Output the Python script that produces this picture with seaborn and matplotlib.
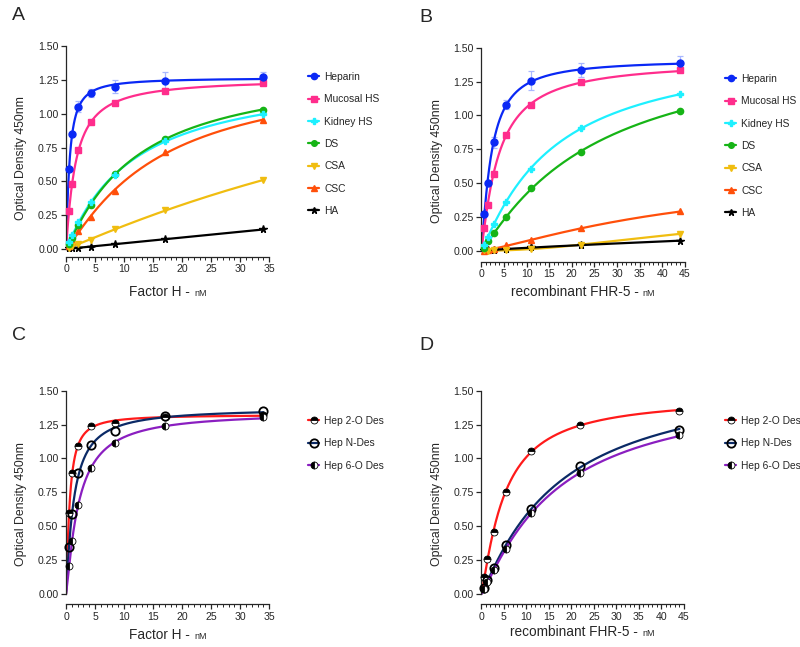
"""Binding curves of Factor H / FHR-5 to glycosaminoglycans (4 panels)."""
import numpy as np
import pandas as pd
import matplotlib
matplotlib.use("Agg")
import matplotlib.pyplot as plt
from matplotlib.lines import Line2D
from matplotlib.ticker import MultipleLocator
from matplotlib.offsetbox import TextArea, HPacker, AnchoredOffsetbox
import seaborn as sns

# concentrations (nM)
fh_conc = [0.53, 1.06, 2.125, 4.25, 8.5, 17, 34]
fhr5_conc = [0.69, 1.375, 2.75, 5.5, 11, 22, 44]

# panel A - Factor H
a_heparin = [0.59, 0.85, 1.05, 1.155, 1.20, 1.245, 1.268]
a_mucosal = [0.28, 0.48, 0.73, 0.94, 1.08, 1.165, 1.225]
a_kidney = [0.05, 0.10, 0.20, 0.345, 0.545, 0.80, 0.995]
a_ds = [0.04, 0.085, 0.18, 0.325, 0.555, 0.815, 1.03]
a_csa = [0.01, 0.02, 0.04, 0.07, 0.145, 0.285, 0.51]
a_csc = [0.02, 0.06, 0.13, 0.235, 0.43, 0.715, 0.955]
a_ha = [0.005, 0.005, 0.01, 0.018, 0.035, 0.072, 0.145]
a_heparin_err = [0, 0, 0.04, 0.03, 0.05, 0.06, 0.04]

# panel B - recombinant FHR-5
b_heparin = [0.27, 0.50, 0.80, 1.08, 1.255, 1.335, 1.385]
b_mucosal = [0.17, 0.335, 0.57, 0.855, 1.075, 1.245, 1.335]
b_kidney = [0.04, 0.10, 0.195, 0.36, 0.605, 0.91, 1.155]
b_ds = [0.02, 0.07, 0.13, 0.25, 0.46, 0.73, 1.035]
b_csa = [0.005, 0.0, 0.005, 0.005, 0.01, 0.045, 0.125]
b_csc = [0.0, 0.005, 0.01, 0.04, 0.08, 0.165, 0.29]
b_ha = [0.005, 0.005, 0.008, 0.012, 0.025, 0.04, 0.075]
b_heparin_err = [0, 0, 0.04, 0.03, 0.07, 0.05, 0.05]

# panel C - Factor H, desulfated heparins
c_2o = [0.60, 0.895, 1.09, 1.24, 1.265, 1.305, 1.32]
c_n = [0.35, 0.59, 0.89, 1.10, 1.20, 1.31, 1.35]
c_6o = [0.21, 0.39, 0.655, 0.93, 1.115, 1.24, 1.305]

# panel D - FHR-5, desulfated heparins
d_2o = [0.128, 0.256, 0.457, 0.755, 1.057, 1.25, 1.352]
d_n = [0.047, 0.10, 0.19, 0.36, 0.625, 0.944, 1.212]
d_6o = [0.04, 0.09, 0.175, 0.33, 0.595, 0.89, 1.17]

gag_names = ["Heparin", "Mucosal HS", "Kidney HS", "DS", "CSA", "CSC", "HA"]
gag_colors = ["#0a28f5", "#ff2d8c", "#1ef0ff", "#16b416", "#f0bd10", "#ff4f0a", "#000000"]
gag_markers = ["o", "s", "P", "o", "v", "^", "*"]
gag_sizes = [5, 5, 5, 4.5, 5, 5, 5.5]

des_names = ["Hep 2-O Des", "Hep N-Des", "Hep 6-O Des"]
des_colors = ["#ff1a1a", "#0b2a66", "#8a1ec0"]


def hill_fit(x, y):
    """Least-squares fit of y = Bmax*x^h/(K^h+x^h) by grid search."""
    x = np.asarray(x, float)
    y = np.asarray(y, float)
    ks = np.logspace(-1.5, 4, 300)[:, None, None]
    hs = np.linspace(0.6, 2.5, 39)[None, :, None]
    f = x ** hs / (ks ** hs + x ** hs)
    b = (f * y).sum(-1) / (f * f).sum(-1)
    sse = ((b[..., None] * f - y) ** 2).sum(-1)
    i, j = np.unravel_index(np.argmin(sse), sse.shape)
    k, h, bm = ks[i, 0, 0], hs[0, j, 0], b[i, j]
    return lambda t: bm * t ** h / (k ** h + t ** h)


def fit_frame(conc, series, names):
    rows = []
    xs = np.linspace(0, max(conc), 400)
    for name, ys in zip(names, series):
        fn = hill_fit(conc, ys)
        rows.append(pd.DataFrame({"x": xs, "y": fn(xs), "series": name}))
    return pd.concat(rows, ignore_index=True)


def style_axes(ax, xmax, ybottom):
    ax.set_xlim(0, xmax)
    ax.set_ylim(ybottom, 1.5)
    ax.spines["left"].set_bounds(0, 1.5)
    ax.spines["top"].set_visible(False)
    ax.spines["right"].set_visible(False)
    ax.set_yticks([0, 0.25, 0.5, 0.75, 1.0, 1.25, 1.5])
    ax.set_yticklabels([f"{v:.2f}" for v in ax.get_yticks()])
    ax.xaxis.set_major_locator(MultipleLocator(5))
    ax.xaxis.set_minor_locator(MultipleLocator(1))
    ax.tick_params(which="major", direction="out", length=3.5, width=0.9, labelsize=7.6, pad=2)
    ax.tick_params(which="minor", direction="out", length=2, width=0.7)
    for s in ("left", "bottom"):
        ax.spines[s].set_linewidth(0.9)
    ax.set_xlabel("")
    ax.set_ylabel("Optical Density 450nm", fontsize=8.8)
    ax.yaxis.set_label_coords(-0.19, 0.47)


def x_label(ax, main, y):
    t1 = TextArea(main, textprops=dict(fontsize=9.8))
    t2 = TextArea("nM", textprops=dict(fontsize=6.5))
    box = HPacker(children=[t1, t2], align="baseline", pad=0, sep=3)
    anc = AnchoredOffsetbox(loc="center", child=box, pad=0, borderpad=0, frameon=False,
                            bbox_to_anchor=(0.5, y), bbox_transform=ax.transAxes)
    ax.add_artist(anc)


def add_legend(ax, handles, names, px, py):
    ax.legend(handles, names, loc="upper left", bbox_to_anchor=(px / 800, 1 - py / 647),
              bbox_transform=fig.transFigure, frameon=False, fontsize=7.4, handlelength=1.1,
              handletextpad=0.5, labelspacing=1.2, borderpad=0, borderaxespad=0)


sns.set_style("ticks")
plt.rcParams["font.family"] = ["Liberation Sans", "DejaVu Sans"]

fig = plt.figure(figsize=(8, 6.47), dpi=100)
ax_a = fig.add_axes([0.0825, 0.6032, 0.2541, 0.3257])
ax_b = fig.add_axes([0.6016, 0.5955, 0.2546, 0.3308])
ax_c = fig.add_axes([0.0825, 0.0660, 0.2541, 0.3301])
ax_d = fig.add_axes([0.6016, 0.0665, 0.2534, 0.3296])

# ---- panels A and B ----
panels_ab = [
    (ax_a, fh_conc, [a_heparin, a_mucosal, a_kidney, a_ds, a_csa, a_csc, a_ha], a_heparin_err, 35, -0.057),
    (ax_b, fhr5_conc, [b_heparin, b_mucosal, b_kidney, b_ds, b_csa, b_csc, b_ha], b_heparin_err, 45, -0.081),
]
for ax, conc, series, err, xmax, yb in panels_ab:
    df = fit_frame(conc, series, gag_names)
    # error bars of heparin
    ax.errorbar(conc, series[0], yerr=err, fmt="none", ecolor="#a9b8ff", elinewidth=0.9,
                capsize=2.5, capthick=0.9, zorder=1, clip_on=False)
    sns.lineplot(data=df[::-1], x="x", y="y", hue="series", hue_order=gag_names,
                 palette=dict(zip(gag_names, gag_colors)), sort=False, lw=1.6,
                 legend=False, ax=ax, zorder=2)
    for name, ys, c, m, ms in zip(gag_names[::-1], series[::-1], gag_colors[::-1],
                                  gag_markers[::-1], gag_sizes[::-1]):
        ax.plot(conc, ys, ls="none", marker=m, ms=ms, mfc=c, mec=c, zorder=3, clip_on=False)
    style_axes(ax, xmax, yb)

handles = [Line2D([], [], color=c, marker=m, ms=ms * 0.9, mfc=c, mec=c, lw=1.6)
           for c, m, ms in zip(gag_colors, gag_markers, gag_sizes)]
add_legend(ax_a, handles, gag_names, 308, 72)
add_legend(ax_b, handles, gag_names, 725, 74)

# ---- panels C and D ----
des_marker_kw = [
    dict(marker="o", fillstyle="top", mfc="black", mfcalt="white", mec="black", mew=0.6, ms=5),
    dict(marker="o", fillstyle="none", mec="black", mew=1.3, ms=6),
    dict(marker="o", fillstyle="left", mfc="black", mfcalt="white", mec="black", mew=0.6, ms=5),
]
panels_cd = [
    (ax_c, fh_conc, [c_2o, c_n, c_6o], 35, -0.076),
    (ax_d, fhr5_conc, [d_2o, d_n, d_6o], 45, -0.074),
]
for ax, conc, series, xmax, yb in panels_cd:
    df = fit_frame(conc, series, des_names)
    sns.lineplot(data=df, x="x", y="y", hue="series", hue_order=des_names,
                 palette=dict(zip(des_names, des_colors)), sort=False, lw=1.6,
                 legend=False, ax=ax, zorder=2)
    for ys, kw in zip(series, des_marker_kw):
        ax.plot(conc, ys, ls="none", zorder=3, clip_on=False, **kw)
    style_axes(ax, xmax, yb)

des_handles = [Line2D([], [], color=c, lw=1.6, **kw) for c, kw in zip(des_colors, des_marker_kw)]
add_legend(ax_c, des_handles, des_names, 308, 416)
add_legend(ax_d, des_handles, des_names, 725, 416)

x_label(ax_a, "Factor H -", -0.166)
x_label(ax_b, "recombinant FHR-5 -", -0.14)
x_label(ax_c, "Factor H -", -0.144)
x_label(ax_d, "recombinant FHR-5 -", -0.13)

for letter, (px, py) in zip("ABCD", [(12, 15), (419, 18), (12, 335), (419, 345)]):
    fig.text(px / 800, 1 - py / 647, letter, fontsize=14, ha="left", va="center")

fig.savefig("out.png", dpi=100)
plt.close(fig)
